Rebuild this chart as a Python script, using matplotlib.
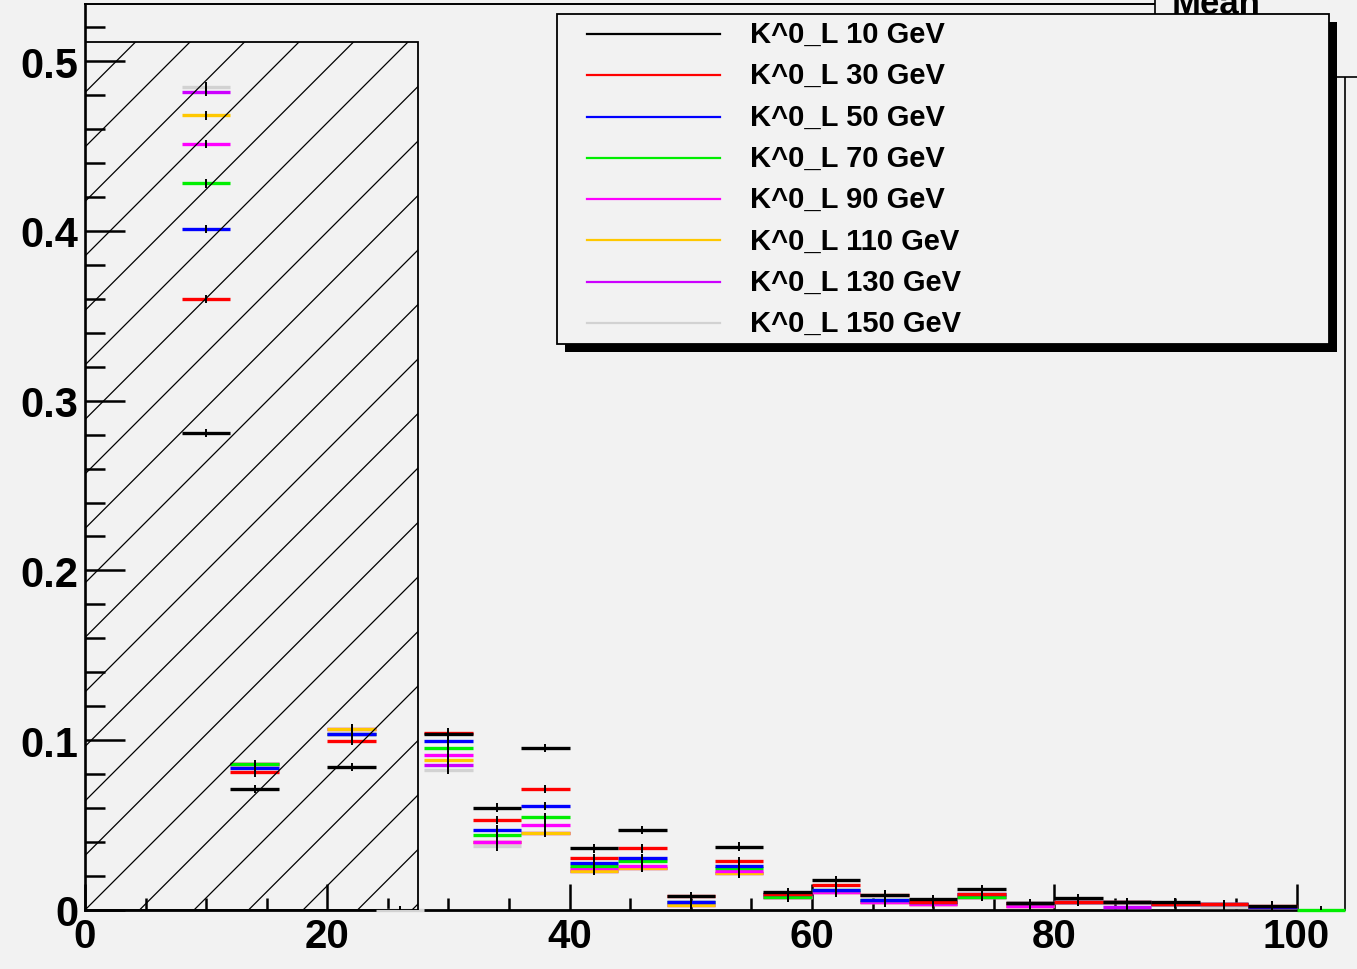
import numpy as np
import matplotlib
matplotlib.use("Agg")
import matplotlib.pyplot as plt
from matplotlib.patches import Rectangle

nan = np.nan

# ---------------- data ----------------
bin_edges = list(range(0, 108, 4))          # 0 .. 104, 26 bins of width 4
energies = [10, 30, 50, 70, 90, 110, 130, 150]
labels = [f"K^0_L {e} GeV" for e in energies]
colors = ["#000000", "#ff0000", "#0000ff", "#00ee00",
          "#ff00ff", "#ffc800", "#cc00ff", "#d2d2d2"]

k10 = [nan, nan, .281, .0713, nan, .0842, nan, .1035, .0603, .0954, .0363, .0472, .0081,
       .0373, .0104, .0178, .0090, .0062, .0124, .0039, .0068, .0045, .0045, nan, .0026, nan]
k30 = [nan, nan, .360, .0811, nan, .0995, nan, .1045, .0530, .0714, .0304, .0363, .0081,
       .0290, .0095, .0149, .0090, .0050, .0094, .0039, .0050, .0045, .0035, .0035, .0026, nan]
k50 = [nan, nan, .401, .0838, nan, .1038, nan, .0995, .0473, .0614, .0274, .0304, .0048,
       .0261, .0095, .0118, .0061, .0050, .0094, .0039, .0050, .0045, .0035, .0035, .0020, nan]
k70 = [nan, nan, .428, .0858, nan, .1038, nan, .0954, .0444, .0546, .0261, .0290, .0048,
       .0247, .0075, .0118, .0061, .0050, .0078, .0039, .0050, .0045, .0035, .0035, .0020, 0.0]
k90 = [nan, nan, .451, .0858, nan, .1038, nan, .0913, .0402, .0500, .0247, .0261, .0048,
       .0232, .0075, .0104, .0045, .0035, .0078, .0021, .0050, .0045, .0035, .0035, .0020, nan]
k110 = [nan, nan, .468, .0858, nan, .1068, nan, .0883, .0402, .0455, .0232, .0247, .0030,
        .0215, .0075, .0104, .0045, .0035, .0078, .0021, .0050, .0045, .0035, .0035, .0020, nan]
k130 = [nan, nan, .482, .0858, nan, .1068, nan, .0854, .0402, .0455, .0232, .0247, .0030,
        .0215, .0075, .0104, .0045, .0035, .0078, .0021, .0050, .0020, .0035, .0035, .0020, nan]
k150 = [nan, nan, .485, .0858, nan, .1068, 0.0, .0826, .0375, .0455, .0232, .0247, .0030,
        .0215, .0075, .0104, .0045, .0035, .0078, .0021, .0050, .0015, .0035, .0015, .0020, nan]
series = [k10, k30, k50, k70, k90, k110, k130, k150]
err = 0.0025

yticks = [0, 0.1, 0.2, 0.3, 0.4, 0.5]
ytick_labels = ["0", "0.1", "0.2", "0.3", "0.4", "0.5"]
xticks = [0, 20, 40, 60, 80, 100]
xtick_labels = ["0", "20", "40", "60", "80", "100"]
hatch_box = (0, 27.5, 0.511)   # x0, x1, ytop of the hatched region
stats_text = "Mean"

# ---------------- style ----------------
plt.rcParams["font.family"] = ["Liberation Sans", "DejaVu Sans"]
plt.rcParams["font.weight"] = "bold"
BG = "#f2f2f2"
W, H = 1357, 970

fig = plt.figure(figsize=(W / 100, H / 100), dpi=100, facecolor=BG)
ax = fig.add_axes([85 / W, 1 - 911 / H, 1260 / W, 906 / H])
ax.set_facecolor(BG)
ax.set_xlim(0, 104)
ax.set_ylim(0, 0.5336)

edges = np.array(bin_edges, dtype=float)
lefts, rights = edges[:-1], edges[1:]
centers = 0.5 * (lefts + rights)

# draw highest energy first so that lower energies lie on top
for vals, col in reversed(list(zip(series, colors))):
    v = np.array(vals, dtype=float)
    m = ~np.isnan(v)
    ax.hlines(v[m], lefts[m], rights[m], colors=col, lw=2.4, zorder=3,
              capstyle="butt", clip_on=False)
    ax.vlines(centers[m], np.maximum(v[m] - err, 0), v[m] + err, colors="black", lw=1.4, zorder=3.5)

# hatched region
hx0, hx1, hy1 = hatch_box
rect = Rectangle((hx0, 0), hx1 - hx0, hy1, facecolor="none", edgecolor="black", lw=1.3, zorder=4)
ax.add_patch(rect)
bbox = ax.get_position()
sx = bbox.width * W / 104.0
sy = bbox.height * H / 0.5336
slope = sx / sy
dx = 54.5 / sx
xs = np.array([-150.0, 40.0])
for k in range(-20, 8):
    x0 = k * dx
    ln, = ax.plot(xs, (xs - x0) * slope, color="black", lw=0.9, zorder=4)
    ln.set_clip_path(rect)

# axes frame
ax.spines["left"].set_linewidth(1.9)
ax.spines["bottom"].set_linewidth(2.0)
ax.spines["bottom"].set_bounds(0, 100)
ax.spines["top"].set_linewidth(1.4)
ax.spines["right"].set_linewidth(1.2)

ax.set_yticks(yticks)
ax.set_yticklabels(ytick_labels)
ax.set_yticks(np.arange(0, 0.53, 0.02), minor=True)
ax.set_xticks(xticks)
ax.set_xticklabels(xtick_labels)
ax.set_xticks(np.arange(0, 101, 5), minor=True)
ax.tick_params(axis="y", which="major", direction="in", length=28.5, width=1.8, pad=5, labelsize=30)
ax.tick_params(axis="y", which="minor", direction="in", length=14.4, width=1.8)
ax.tick_params(axis="x", which="major", direction="in", length=18.5, width=1.8, pad=5, labelsize=29)
ax.tick_params(axis="x", which="minor", direction="in", length=8.6, width=1.8)
for lab in ax.get_xticklabels() + ax.get_yticklabels():
    lab.set_fontweight("bold")

# ---------------- overlay: stats box + legend (pixel coords) ----------------
ov = fig.add_axes([0, 0, 1, 1], facecolor="none")
ov.set_xlim(0, W)
ov.set_ylim(H, 0)
ov.axis("off")

ov.add_patch(Rectangle((1155, -80), 300, 158, facecolor=BG, edgecolor="black", lw=1.2, zorder=1))
ov.text(1172, 14, stats_text, fontsize=25, fontweight="bold", va="baseline", ha="left", zorder=2)

lx0, ly0, lx1, ly1 = 557, 15, 1329, 345
ov.add_patch(Rectangle((lx0 + 8, ly0 + 8), lx1 - lx0, ly1 - ly0, facecolor="black", edgecolor="none", zorder=3))
ov.add_patch(Rectangle((lx0, ly0), lx1 - lx0, ly1 - ly0, facecolor=BG, edgecolor="black", lw=1.3, zorder=4))
row_y = np.linspace(35, 324, len(labels))
for yy, lab, col in zip(row_y, labels, colors):
    ov.plot([587, 720], [yy, yy], color=col, lw=1.6, zorder=5)
    ov.text(750, yy, lab, fontsize=21, fontweight="bold", va="center", ha="left", zorder=5)

fig.savefig("out.png", dpi=100, facecolor=BG)
